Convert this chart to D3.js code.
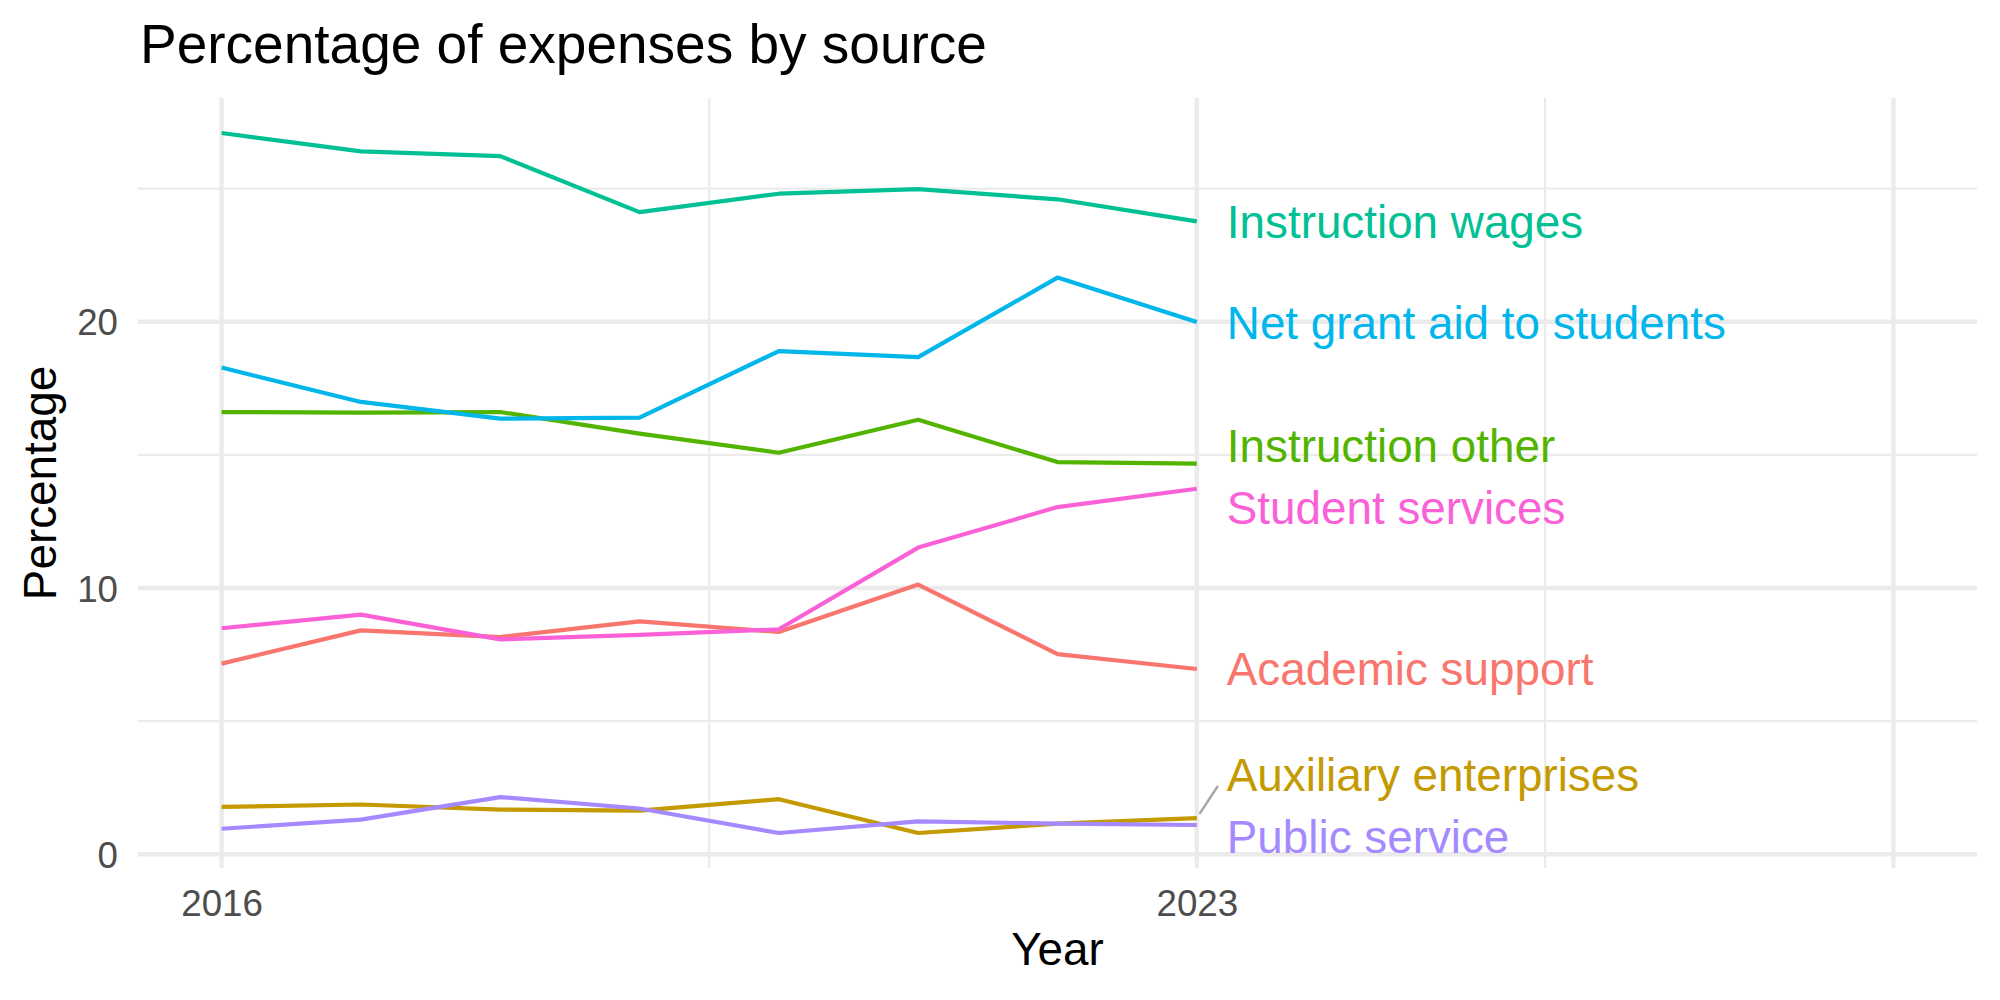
<!DOCTYPE html>
<html>
<head>
<meta charset="utf-8">
<script src="https://cdn.jsdelivr.net/npm/d3@7"></script>
<style>
  body { margin: 0; background: #fff; }
  svg text { font-family: "Liberation Sans", Arial, Helvetica, sans-serif; }
</style>
</head>
<body>
<div id="chart"></div>
<script>
////////////////////
// DATA

var years = [2016, 2017, 2018, 2019, 2020, 2021, 2022, 2023];
var sources = ["Academic support", "Auxiliary enterprises", "Instruction other",
  "Instruction wages", "Net grant aid to students", "Public service", "Student services"];
var colors = ["#F8766D", "#C49A00", "#53B400", "#00C094", "#00B6EB", "#A58AFF", "#FB61D7"];

var academicSupport   = [7.16, 8.41, 8.16, 8.75, 8.35, 10.13, 7.52, 6.96];
var auxiliary         = [1.78, 1.87, 1.68, 1.64, 2.07, 0.80, 1.15, 1.36];
var instructionOther  = [16.61, 16.59, 16.61, 15.80, 15.08, 16.32, 14.73, 14.67];
var instructionWages  = [27.09, 26.40, 26.22, 24.12, 24.81, 24.98, 24.60, 23.77];
var netGrantAid       = [18.28, 16.99, 16.36, 16.40, 18.90, 18.67, 21.66, 19.99];
var publicService     = [0.96, 1.30, 2.15, 1.72, 0.80, 1.24, 1.15, 1.10];
var studentServices   = [8.49, 9.00, 8.07, 8.24, 8.45, 11.52, 13.04, 13.73];

var seriesValues = [academicSupport, auxiliary, instructionOther, instructionWages,
  netGrantAid, publicService, studentServices];

var xLimits = [2016, 2028];
var xBreaks = [2016, 2023, 2028];
var xLabels = ["2016", "2023", ""];
var xMinor = [2019.5, 2025.5];
var yBreaks = [0, 10, 20];
var yMinor = [5, 15, 25];

////////////////////
// LAYOUT

var w = 2000;
var h = 1000;
var panel = {left: 138, right: 1977, top: 98, bottom: 868};

var series = sources.map(function(name, i) {
  return {
    name: name,
    color: colors[i],
    values: years.map(function(y, j) { return {year: y, value: seriesValues[i][j]}; })
  };
});

var allVals = d3.merge(seriesValues);
var yExt = d3.extent(allVals);
var yPad = (yExt[1] - yExt[0]) * 0.05;
var xPad = (xLimits[1] - xLimits[0]) * 0.05;

var x = d3.scaleLinear()
  .domain([xLimits[0] - xPad, xLimits[1] + xPad])
  .range([panel.left, panel.right]);
var y = d3.scaleLinear()
  .domain([yExt[0] - yPad, yExt[1] + yPad])
  .range([panel.bottom, panel.top]);

var svg = d3.select("#chart")
  .append("svg")
  .attr("width", w)
  .attr("height", h);

////////////////////
// GRID

var grid = svg.append("g");
grid.selectAll(".yminor").data(yMinor).enter().append("line")
  .attr("x1", panel.left).attr("x2", panel.right)
  .attr("y1", function(d) { return y(d); }).attr("y2", function(d) { return y(d); })
  .attr("stroke", "#EBEBEB").attr("stroke-width", 2.2);
grid.selectAll(".xminor").data(xMinor).enter().append("line")
  .attr("y1", panel.top).attr("y2", panel.bottom)
  .attr("x1", function(d) { return x(d); }).attr("x2", function(d) { return x(d); })
  .attr("stroke", "#EBEBEB").attr("stroke-width", 2.2);
grid.selectAll(".ymajor").data(yBreaks).enter().append("line")
  .attr("x1", panel.left).attr("x2", panel.right)
  .attr("y1", function(d) { return y(d); }).attr("y2", function(d) { return y(d); })
  .attr("stroke", "#EBEBEB").attr("stroke-width", 4.4);
grid.selectAll(".xmajor").data(xBreaks).enter().append("line")
  .attr("y1", panel.top).attr("y2", panel.bottom)
  .attr("x1", function(d) { return x(d); }).attr("x2", function(d) { return x(d); })
  .attr("stroke", "#EBEBEB").attr("stroke-width", 4.4);

////////////////////
// AXES (ticks hidden, minimal theme)

var yAxis = svg.append("g")
  .attr("transform", "translate(" + (panel.left - 20) + ",0)")
  .call(d3.axisLeft(y).tickValues(yBreaks).tickSize(0).tickPadding(0));
var xAxis = svg.append("g")
  .attr("transform", "translate(0," + (panel.bottom + 20) + ")")
  .call(d3.axisBottom(x).tickValues(xBreaks).tickSize(0).tickPadding(0)
    .tickFormat(function(d, i) { return xLabels[i]; }));
[yAxis, xAxis].forEach(function(a) {
  a.select(".domain").remove();
  a.selectAll("text")
    .attr("fill", "#4D4D4D")
    .style("font-size", "36.7px")
    .style("font-family", "'Liberation Sans', Arial, sans-serif");
});
yAxis.selectAll("text").attr("dy", "0.36em");
xAxis.selectAll("text").attr("dy", "0.75em");

////////////////////
// LINES

var line = d3.line()
  .x(function(d) { return x(d.year); })
  .y(function(d) { return y(d.value); });

svg.append("g").selectAll("path")
  .data(series)
  .enter().append("path")
  .attr("d", function(d) { return line(d.values); })
  .attr("fill", "none")
  .attr("stroke", function(d) { return d.color; })
  .attr("stroke-width", 4.2)
  .attr("stroke-linejoin", "round")
  .attr("stroke-linecap", "butt");

////////////////////
// LABELS (simple vertical repel)

var labelX = x(years[years.length - 1]) + 30;
var labels = series.map(function(s) {
  var last = s.values[s.values.length - 1];
  return {name: s.name, color: s.color, px: x(last.year), py: y(last.value), ly: y(last.value)};
});
labels.sort(function(a, b) { return a.py - b.py; });
var minGap = 62;
var lo = panel.top + 31, hi = panel.bottom - 31;
for (var it = 0; it < 300; it++) {
  for (var k = 0; k < labels.length - 1; k++) {
    var a = labels[k], b = labels[k + 1];
    var gap = b.ly - a.ly;
    if (gap < minGap) {
      var push = (minGap - gap) / 2;
      a.ly -= push;
      b.ly += push;
    }
  }
  labels.forEach(function(l) { l.ly = Math.max(lo, Math.min(hi, l.ly)); });
}

var segs = labels.filter(function(l) { return Math.abs(l.ly - l.py) > 25; });
svg.append("g").selectAll("line")
  .data(segs)
  .enter().append("line")
  .attr("x1", function(d) {
    var ex = labelX - 9, ey = d.ly + 11;
    var len = Math.hypot(ex - d.px, ey - d.py);
    return d.px + (ex - d.px) / len * 5;
  })
  .attr("y1", function(d) {
    var ex = labelX - 9, ey = d.ly + 11;
    var len = Math.hypot(ex - d.px, ey - d.py);
    return d.py + (ey - d.py) / len * 5;
  })
  .attr("x2", labelX - 9)
  .attr("y2", function(d) { return d.ly + 11; })
  .attr("stroke", "#A8A8A8")
  .attr("stroke-width", 2.5);

svg.append("g").selectAll("text")
  .data(labels)
  .enter().append("text")
  .attr("x", labelX)
  .attr("y", function(d) { return d.ly; })
  .attr("dy", "0.36em")
  .attr("fill", function(d) { return d.color; })
  .style("font-size", "45.8px")
  .text(function(d) { return d.name; });

////////////////////
// TITLES

svg.append("text")
  .attr("x", 140)
  .attr("y", 63)
  .style("font-size", "55px")
  .attr("fill", "#000")
  .text("Percentage of expenses by source");

svg.append("text")
  .attr("x", (panel.left + panel.right) / 2)
  .attr("y", 965)
  .attr("text-anchor", "middle")
  .style("font-size", "45.8px")
  .attr("fill", "#000")
  .text("Year");

svg.append("text")
  .attr("transform", "translate(56," + ((panel.top + panel.bottom) / 2) + ") rotate(-90)")
  .attr("text-anchor", "middle")
  .style("font-size", "45.8px")
  .attr("fill", "#000")
  .text("Percentage");
</script>
</body>
</html>
